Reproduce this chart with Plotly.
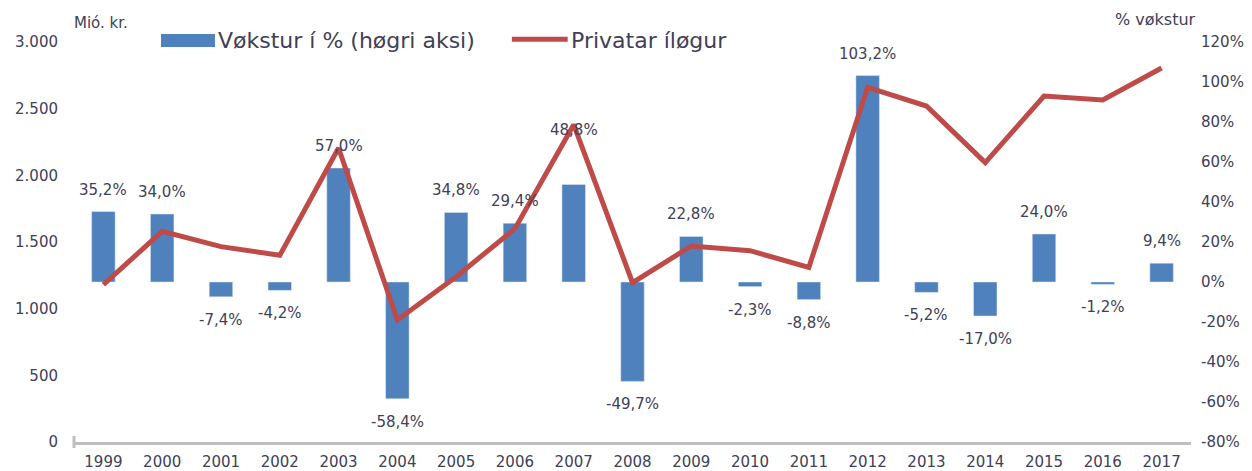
import plotly.graph_objects as go

years = [str(y) for y in range(1999, 2018)]
growth_pct = [35.2, 34.0, -7.4, -4.2, 57.0, -58.4, 34.8, 29.4, 48.8, -49.7,
              22.8, -2.3, -8.8, 103.2, -5.2, -17.0, 24.0, -1.2, 9.4]
investment = [1180, 1580, 1465, 1400, 2205, 915, 1240, 1600, 2380, 1195,
              1470, 1435, 1310, 2660, 2520, 2095, 2595, 2565, 2805]
left_ticks = [0, 500, 1000, 1500, 2000, 2500, 3000]
right_ticks = [-80, -60, -40, -20, 0, 20, 40, 60, 80, 100, 120]

TXT = "#404058"
BLUE = "#4f81bd"
RED = "#be4b48"
FONT = "DejaVu Sans"

fig = go.Figure()
fig.add_trace(go.Bar(x=years, y=growth_pct, yaxis="y", marker_color=BLUE,
                     width=0.4, name="Vøkstur í % (høgri aksi)", showlegend=False))
fig.add_trace(go.Scatter(x=years, y=investment, yaxis="y2", mode="lines",
                         line=dict(color=RED, width=5), name="Privatar íløgur",
                         showlegend=False))

annotations = []
for i, (yr, v) in enumerate(zip(years, growth_pct)):
    label = f"{v:.1f}".replace(".", ",") + "%"
    shift = 11 if v >= 0 else -12
    if yr == "2007":
        shift = 43
    annotations.append(dict(x=i, y=v, xref="x", yref="y", text=label,
                            showarrow=False, yanchor="bottom" if v >= 0 else "top",
                            yshift=shift, font=dict(size=15, color=TXT, family=FONT)))

annotations += [
    dict(x=-0.002, y=1.02, xref="paper", yref="paper", text="Mió. kr.", showarrow=False,
         xanchor="left", yanchor="bottom", font=dict(size=15, color=TXT, family=FONT)),
    dict(x=1.006, y=1.028, xref="paper", yref="paper", text="% vøkstur", showarrow=False,
         xanchor="right", yanchor="bottom", font=dict(size=16, color=TXT, family=FONT)),
    dict(x=0.1275, y=1.005, xref="paper", yref="paper", text="Vøkstur í % (høgri aksi)",
         showarrow=False, xanchor="left", yanchor="middle",
         font=dict(size=22, color=TXT, family=FONT)),
    dict(x=0.4432, y=1.005, xref="paper", yref="paper", text="Privatar íløgur",
         showarrow=False, xanchor="left", yanchor="middle",
         font=dict(size=22, color=TXT, family=FONT)),
]

shapes = [
    dict(type="rect", xref="paper", yref="paper", x0=0.0779, x1=0.1262, y0=0.9875, y1=1.02,
         fillcolor=BLUE, line=dict(width=0)),
    dict(type="line", xref="paper", yref="paper", x0=0.392, x1=0.442, y0=1.007, y1=1.007,
         line=dict(color=RED, width=5)),
    dict(type="line", xref="paper", yref="paper", x0=0, x1=0, y0=-0.015, y1=0.015,
         line=dict(color="#bfbfbf", width=3)),
]

fig.update_layout(
    width=1252, height=471,
    margin=dict(l=74, r=61, t=42, b=29, autoexpand=False),
    paper_bgcolor="white", plot_bgcolor="white",
    separators=",.",
    font=dict(family=FONT, size=15, color=TXT),
    annotations=annotations,
    shapes=shapes,
    xaxis=dict(type="category", range=[-0.5, 18.5], showgrid=False, showline=True,
               linecolor="#bfbfbf", linewidth=3, ticks="",
               tickfont=dict(size=15, color=TXT), ticklabelstandoff=4,
               automargin=False),
    yaxis=dict(side="right", range=[-80, 120], tickvals=right_ticks,
               ticktext=[f"{t}%" for t in right_ticks], showgrid=False, zeroline=False,
               showline=False, tickfont=dict(size=15, color=TXT), ticklabelstandoff=9,
               automargin=False),
    yaxis2=dict(side="left", overlaying="y", range=[0, 3000], tickvals=left_ticks,
                tickformat=",d", showgrid=False, zeroline=False, showline=False,
                tickfont=dict(size=15, color=TXT), ticklabelstandoff=15, automargin=False),
)

fig.write_html("out.html", config={"displayModeBar": False},
               post_script="document.body.style.margin='0';")
